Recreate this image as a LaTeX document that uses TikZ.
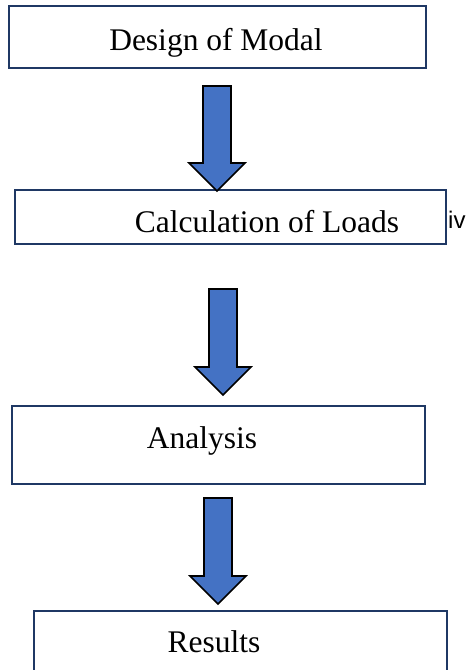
\documentclass[tikz,border=0pt]{standalone}
\usepackage{fontspec}
\setmainfont{Liberation Serif}
\newfontfamily\sansf{Liberation Sans}
\definecolor{boxline}{HTML}{1F3864}
\definecolor{arrowfill}{HTML}{4472C4}
\begin{document}
\begin{tikzpicture}[x=1pt,y=-1pt,
  stepbox/.style={draw=boxline,line width=1.6pt,fill=white,rectangle,inner sep=0pt},
  lbl/.style={anchor=base,inner sep=0pt,font=\fontsize{31.5}{31.5}\selectfont},
  blockarrow/.style={fill=arrowfill,draw=black,line width=1.6pt,line join=miter}]
\path[use as bounding box] (0,0) rectangle (469,670);
\clip (0,0) rectangle (469,670);
\node[stepbox,minimum width=417pt,minimum height=62pt] (b1) at (217.5,37) {};
\node[lbl] (t1) at (216,50) {Design of Modal};
\node[stepbox,minimum width=431pt,minimum height=54pt] (b2) at (230.5,217) {};
\node[lbl] (t2) at (267,232) {Calculation of Loads};
\node[anchor=base west,inner sep=0pt,font=\sansf\fontsize{24}{24}\selectfont] (iv) at (448,228) {iv};
\node[stepbox,minimum width=413pt,minimum height=78pt] (b3) at (218.5,445) {};
\node[lbl] (t3) at (202,448) {Analysis};
\node[stepbox,minimum width=413pt,minimum height=80pt] (b4) at (240.5,651) {};
\node[lbl] (t4) at (214,652) {Results};
% block arrows
\draw[blockarrow] (203,86) -- (231,86) -- (231,163) -- (245,163) -- (217,191) -- (189,163) -- (203,163) -- cycle;
\draw[blockarrow] (209,289) -- (237,289) -- (237,367) -- (251,367) -- (223,395) -- (195,367) -- (209,367) -- cycle;
\draw[blockarrow] (204,498) -- (232,498) -- (232,576) -- (246,576) -- (218,604) -- (190,576) -- (204,576) -- cycle;
\end{tikzpicture}
\end{document}
